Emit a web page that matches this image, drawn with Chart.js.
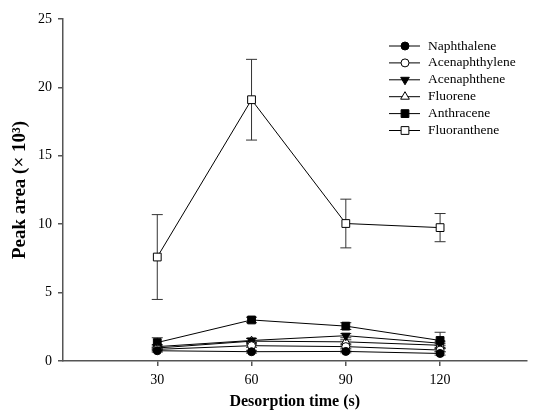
<!DOCTYPE html>
<html>
<head>
<meta charset="utf-8">
<script src="https://cdn.jsdelivr.net/npm/chart.js@4/dist/chart.umd.min.js"></script>
<style>
  html, body { margin: 0; padding: 0; background: #fff; }
  #wrap { width: 533px; height: 411px; }
</style>
</head>
<body>
<div id="wrap"><canvas id="chart" width="533" height="411"></canvas></div>
<script>
let times = [30, 60, 90, 120]

let naphthalene = [0.75, 0.68, 0.70, 0.55]
let acenaphthylene = [0.85, 1.12, 1.05, 0.80]
let acenaphthene = [1.05, 1.50, 1.85, 1.30]
let fluorene = [0.95, 1.45, 1.40, 1.15]
let anthracene = [1.35, 3.00, 2.55, 1.50]
let fluoranthene = [7.60, 19.10, 10.05, 9.75]

let errNaphthalene = [0.10, 0.10, 0.10, 0.12]
let errAcenaphthylene = [0.12, 0.12, 0.12, 0.12]
let errAcenaphthene = [0.15, 0.15, 0.15, 0.15]
let errFluorene = [0.15, 0.20, 0.15, 0.15]
let errAnthracene = [0.35, 0.20, 0.25, 0.60]
let errFluoranthene = [3.10, 2.95, 1.78, 1.03]

let serif = "'Liberation Serif', 'Times New Roman', serif"

let pts = vals => vals.map((v, i) => ({x: times[i], y: v}))

let mkSet = (label, vals, errs, style, filled, radius, rotation) => ({
    label: label,
    data: pts(vals),
    errors: errs,
    borderColor: '#000',
    borderWidth: 1,
    pointStyle: style,
    pointRadius: radius,
    pointHoverRadius: radius,
    pointRotation: rotation || 0,
    pointBackgroundColor: filled ? '#000' : '#fff',
    pointBorderColor: '#000',
    pointBorderWidth: 1,
    fill: false,
    tension: 0
})

let errorBars = {
    id: 'errorBars',
    beforeDatasetsDraw(chart) {
        let ctx = chart.ctx
        let xs = chart.scales.x, ys = chart.scales.y
        ctx.save()
        ctx.strokeStyle = '#333'
        ctx.lineWidth = 1
        chart.data.datasets.forEach(ds => {
            ds.data.forEach((p, i) => {
                let e = ds.errors[i]
                let x = xs.getPixelForValue(p.x)
                let top = ys.getPixelForValue(p.y + e)
                let bot = ys.getPixelForValue(p.y - e)
                ctx.beginPath()
                ctx.moveTo(x, top); ctx.lineTo(x, bot)
                ctx.moveTo(x - 5.5, top); ctx.lineTo(x + 5.5, top)
                ctx.moveTo(x - 5.5, bot); ctx.lineTo(x + 5.5, bot)
                ctx.stroke()
            })
        })
        ctx.restore()
    }
}

let sideLegend = {
    id: 'sideLegend',
    afterDraw(chart) {
        let ctx = chart.ctx
        ctx.save()
        ctx.font = '13.5px ' + serif
        ctx.textBaseline = 'middle'
        chart.data.datasets.forEach((ds, i) => {
            let y = 46 + i * 16.9
            ctx.strokeStyle = '#000'
            ctx.lineWidth = 1
            ctx.beginPath()
            ctx.moveTo(389, y); ctx.lineTo(420, y)
            ctx.stroke()
            ctx.fillStyle = ds.pointBackgroundColor
            ctx.strokeStyle = '#000'
            Chart.helpers.drawPoint(ctx, {
                pointStyle: ds.pointStyle,
                radius: ds.pointRadius,
                rotation: ds.pointRotation,
                borderWidth: 1
            }, 405, y)
            ctx.fillStyle = '#000'
            ctx.fillText(ds.label, 428, y)
        })
        ctx.restore()
    }
}

let ctx = document.getElementById('chart').getContext('2d')
let myChart = new Chart(ctx, {
    type: 'line',
    data: {
        datasets: [
            mkSet('Naphthalene', naphthalene, errNaphthalene, 'circle', true, 4),
            mkSet('Acenaphthylene', acenaphthylene, errAcenaphthylene, 'circle', false, 4),
            mkSet('Acenaphthene', acenaphthene, errAcenaphthene, 'triangle', true, 5, 180),
            mkSet('Fluorene', fluorene, errFluorene, 'triangle', false, 5),
            mkSet('Anthracene', anthracene, errAnthracene, 'rect', true, 5.5),
            mkSet('Fluoranthene', fluoranthene, errFluoranthene, 'rect', false, 5.5)
        ]
    },
    options: {
        responsive: false,
        animation: false,
        layout: { padding: { left: 0, right: 3, top: 19, bottom: 0 } },
        plugins: {
            legend: { display: false },
            tooltip: { enabled: false }
        },
        scales: {
            x: {
                type: 'linear',
                min: 0,
                max: 147.5,
                afterBuildTicks: axis => { axis.ticks = times.map(t => ({value: t})) },
                afterFit: axis => { axis.height = 50 },
                grid: { drawOnChartArea: false, tickLength: 5, color: '#555', lineWidth: 1.5 },
                border: { color: '#555', width: 1.5 },
                ticks: { color: '#000', padding: 6, font: { family: serif, size: 14 } },
                title: {
                    display: true,
                    text: 'Desorption time (s)',
                    color: '#000',
                    padding: { top: 0, bottom: 0 },
                    font: { family: serif, size: 16, weight: 'bold' }
                }
            },
            y: {
                min: 0,
                max: 25,
                afterFit: axis => { axis.width = 63 },
                grid: { drawOnChartArea: false, tickLength: 5, color: '#555', lineWidth: 1.5 },
                border: { color: '#555', width: 1.5 },
                ticks: { stepSize: 5, color: '#000', padding: 6, font: { family: serif, size: 14 } },
                title: {
                    display: true,
                    text: 'Peak area (× 10³)',
                    color: '#000',
                    padding: { top: 9, bottom: 0 },
                    font: { family: serif, size: 19, weight: 'bold' }
                }
            }
        }
    },
    plugins: [errorBars, sideLegend]
})
</script>
</body>
</html>
